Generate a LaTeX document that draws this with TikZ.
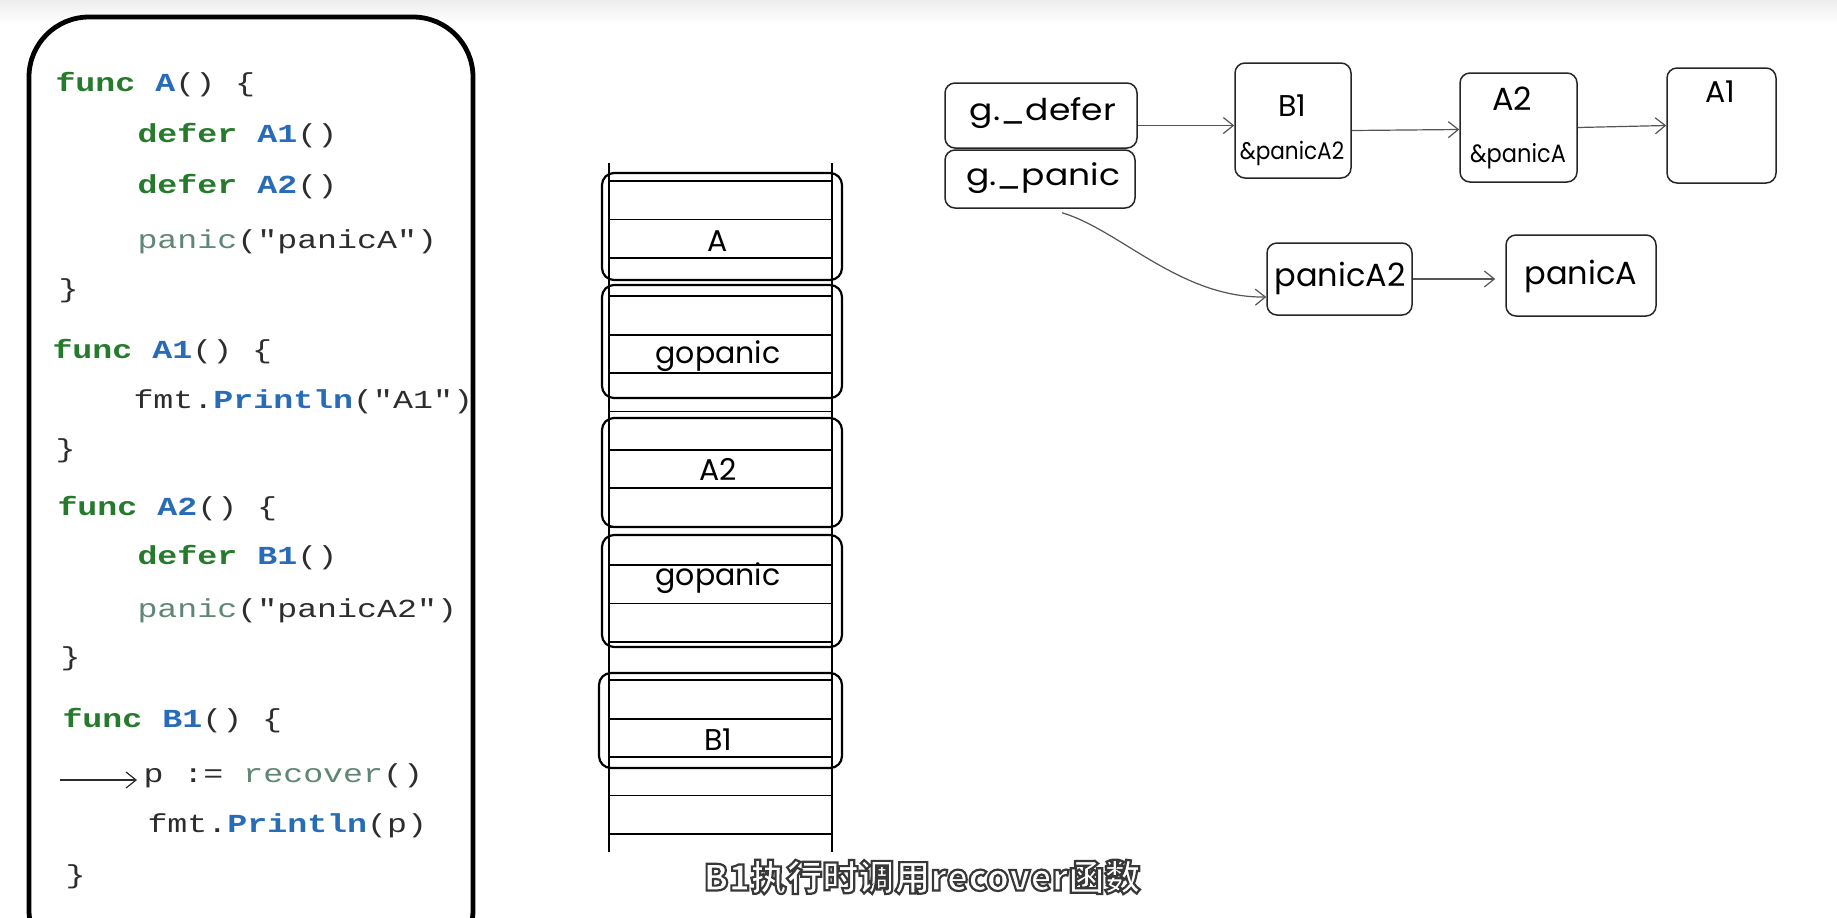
\documentclass[tikz,border=0pt]{standalone}
\usepackage{fontspec}
\setmonofont{Liberation Mono}
\newfontfamily\hand{Poppins}
\newfontfamily\cjk{Noto Sans CJK SC}
\usetikzlibrary{arrows.meta,calc}

\definecolor{kwgreen}{RGB}{38,122,44}
\definecolor{fnblue}{RGB}{40,108,184}
\definecolor{builtin}{RGB}{96,134,118}
\definecolor{codeink}{RGB}{45,45,45}
\definecolor{linkgray}{RGB}{85,85,85}

% code colouring
\newcommand\kw[1]{\textcolor{kwgreen}{\bfseries #1}}
\newcommand\fn[1]{\textcolor{fnblue}{\bfseries #1}}
\newcommand\bi[1]{\textcolor{builtin}{#1}}

% white glyphs with a dark stroked outline (PDF text render mode 2)
\newcommand\outlinedtext[1]{%
  \special{pdf:literal direct q}%
  \textcolor{white}{\special{pdf:literal direct 0.22 G 2 Tr 1.1 w}#1}%
  \special{pdf:literal direct 0 Tr Q}}

\begin{document}
\begin{tikzpicture}[x=0.5pt,y=-0.5pt,
  code/.style={anchor=base west, inner sep=0pt, text=codeink,
    font=\ttfamily\fontsize{13pt}{15pt}\selectfont, xscale=1.28},
  frame/.style={draw, line width=1.1pt, rounded corners=6pt,
    minimum width=120pt, inner sep=0pt},
  lbl/.style={inner sep=0pt, font=\hand\fontsize{15pt}{17pt}\selectfont},
  cell/.style={draw=black!85, line width=0.75pt, rounded corners=5pt, inner sep=0pt},
  link/.style={draw=linkgray, line width=0.6pt,
    -{Straight Barb[length=5pt,width=8pt]}},
]
\useasboundingbox (0,0) rectangle (1837,917);
\clip (0,0) rectangle (1837,917);
\fill[white] (0,0) rectangle (1837,917);
\shade[top color=black!7, bottom color=white] (0,0) rectangle (1837,24);

% ---------- source listing ----------
\draw[line width=2.4pt, rounded corners=30pt] (29,17) rectangle (473,970);

\node[code] (l1)  at (55,91)   {\kw{func} \fn{A}() \{};
\node[code] (l2)  at (137,142) {\kw{defer} \fn{A1}()};
\node[code] (l3)  at (137,193) {\kw{defer} \fn{A2}()};
\node[code] (l4)  at (137,248) {\bi{panic}("panicA")};
\node[code] (l5)  at (58,297)  {\}};
\node[code] (l6)  at (52,358)  {\kw{func} \fn{A1}() \{};
\node[code] (l7)  at (133,408) {fmt.\fn{Println}("A1")};
\node[code] (l8)  at (55,457)  {\}};
\node[code] (l9)  at (57,515)  {\kw{func} \fn{A2}() \{};
\node[code] (l10) at (137,564) {\kw{defer} \fn{B1}()};
\node[code] (l11) at (137,617) {\bi{panic}("panicA2")};
\node[code] (l12) at (60,665)  {\}};
\node[code] (l13) at (62,727)  {\kw{func} \fn{B1}() \{};
\node[code] (prec) at (143,782) {p := \bi{recover}()};
\node[code] (l15) at (147,832) {fmt.\fn{Println}(p)};
\node[code] (l16) at (65,883)  {\}};

\coordinate (cur) at (60,780);
\draw[link, draw=codeink, shorten >=3pt] (cur) -- (cur -| prec.west);

% ---------- goroutine stack ----------
\draw[line width=0.9pt] (609,163) -- (609,852) (832,163) -- (832,852);
\foreach \k in {0,...,17}
  \draw[line width=0.9pt] (609,181+38.4*\k) -- (832,181+38.4*\k);

\node[frame, minimum height=53.5pt] (fA)   at (722,226.5) {};
\node[frame, minimum height=56.5pt] (fGP1) at (722,341.5) {};
\node[frame, minimum height=54.5pt] (fA2)  at (722,472.5) {};
\node[frame, minimum height=56pt]   (fGP2) at (722,591)   {};
\node[frame, minimum height=47.5pt, minimum width=121.5pt] (fB1) at (720.5,720.5) {};

\node[lbl] (tA)   at (718,241) {A};
\node[lbl] (tGP1) at (718,356) {gopanic};
\node[lbl] (tA2)  at (718,469) {A2};
\node[lbl] (tGP2) at (718,578) {gopanic};
\node[lbl] (tB1)  at (718,740) {B1};

% ---------- g._defer / g._panic chains ----------
\node[cell, minimum width=96pt, minimum height=32.5pt] (gdefer) at (1041,115.5) {};
\node[cell, minimum width=95pt, minimum height=29pt]   (gpanic) at (1040,179) {};
\node[lbl, xscale=1.15, font=\hand\fontsize{15pt}{17pt}\selectfont] (tgd) at (1043,113) {g.\_defer};
\node[lbl, xscale=1.15, font=\hand\fontsize{15pt}{17pt}\selectfont] (tgp) at (1043,178) {g.\_panic};

\node[cell, minimum width=58pt,   minimum height=57.5pt] (b1) at (1293,120.5) {};
\node[lbl] (tb1) at (1292,106) {B1};
\node[lbl, xscale=0.9, font=\hand\fontsize{12pt}{14pt}\selectfont] (tb1p) at (1292,153) {\&panicA2};

\node[cell, minimum width=58.5pt, minimum height=54.5pt] (a2) at (1518.5,127.5) {};
\node[lbl, font=\hand\fontsize{16pt}{18pt}\selectfont] (ta2) at (1512,99) {A2};
\node[lbl, xscale=0.9, font=\hand\fontsize{12.5pt}{14pt}\selectfont] (ta2p) at (1518,156) {\&panicA};

\node[cell, minimum width=54.5pt, minimum height=57.5pt] (a1) at (1721.5,125.5) {};
\node[lbl] (ta1) at (1720,92) {A1};

\node[cell, minimum width=72.5pt, minimum height=36pt] (pa2) at (1339.5,279) {};
\node[lbl, font=\hand\fontsize{16pt}{18pt}\selectfont] (tpa2) at (1340,278) {panicA2};

\node[cell, minimum width=75pt, minimum height=40.5pt] (pa) at (1581,275.5) {};
\node[lbl, font=\hand\fontsize{16pt}{18pt}\selectfont] (tpa) at (1581,276) {panicA};

\draw[link] ([yshift=-5pt]gdefer.east) -- ([yshift=-5pt]gdefer.east -| b1.west);
\draw[link] ([yshift=-5pt]b1.east) -- ([yshift=-1pt]a2.west);
\draw[link] (a2.east) -- (a1.west);
\draw[link] ([xshift=11pt,yshift=-2pt]gpanic.south)
  .. controls (1120,230) and (1180,298) .. ([yshift=-9pt]pa2.west);
\draw[link] (pa2.east) -- ([xshift=-5pt]pa.west |- pa2.east);

% ---------- caption ----------
\node[inner sep=0pt, font=\cjk\bfseries\fontsize{18pt}{20pt}\selectfont] (cap) at (922,877)
  {\outlinedtext{B1执行时调用recover函数}};
\end{tikzpicture}
\end{document}
